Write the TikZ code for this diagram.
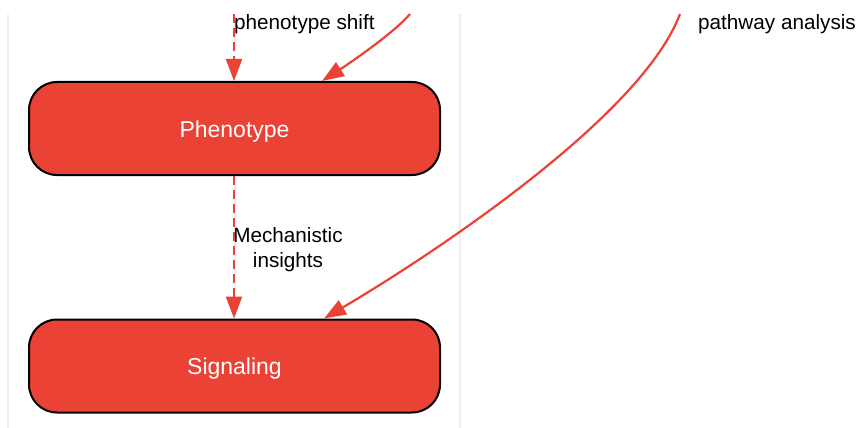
\documentclass[tikz,border=0pt]{standalone}
\usepackage{fontspec}
\setmainfont{Liberation Sans}
\usetikzlibrary{arrows.meta}
\definecolor{stepred}{HTML}{EA4335}
\definecolor{framegray}{HTML}{EEEEEE}
\tikzset{
  stagebox/.style={draw=black, line width=2pt, fill=stepred, rounded corners=28pt,
    minimum width=411pt, minimum height=93pt, text=white,
    text height=17.5pt, text depth=0pt,
    font=\fontsize{23}{27}\selectfont},
  redarrow/.style={draw=stepred, line width=2.2pt, -{Triangle[length=22pt,width=16pt]}},
  dasharrow/.style={redarrow, dash pattern=on 9pt off 5pt},
  edgelabel/.style={font=\fontsize{20.7}{25}\selectfont, align=center, inner sep=0pt}
}
\begin{document}
\begin{tikzpicture}[x=1pt, y=-1pt]
    \useasboundingbox (0,0) rectangle (857,428);

    % Frame
    \draw[framegray, line width=2pt] (8,14) -- (8,428);
    \draw[framegray, line width=2pt] (460,14) -- (460,428);

    % Stages
    \node[stagebox] (pheno) at (234.5,128.5) {Phenotype};
    \node[stagebox] (signal) at (234.5,366) {Signaling};

    % Incoming ends
    \coordinate (shiftin) at (234,14);
    \coordinate (curvein) at (410,14);
    \coordinate (pathin) at (680,14);

    % Connectors
    \draw[dasharrow] (shiftin) -- (pheno.north -| shiftin);
    \node[edgelabel, anchor=base west] (shiftlabel) at (234,30) {phenotype shift};

    \draw[redarrow] (curvein) .. controls (395,32) and (350,63) .. ([xshift=87.5pt]pheno.north);

    \draw[redarrow] (pathin) .. controls (640,120) and (420,262) .. ([xshift=89.5pt]signal.north);
    \node[edgelabel, anchor=base west] (pathlabel) at (698,30) {pathway analysis};

    \draw[dasharrow] (pheno.south -| shiftin) -- (signal.north -| shiftin);
    \node[edgelabel] (mechlabel) at (288,250) {Mechanistic\\insights};
\end{tikzpicture}
\end{document}
